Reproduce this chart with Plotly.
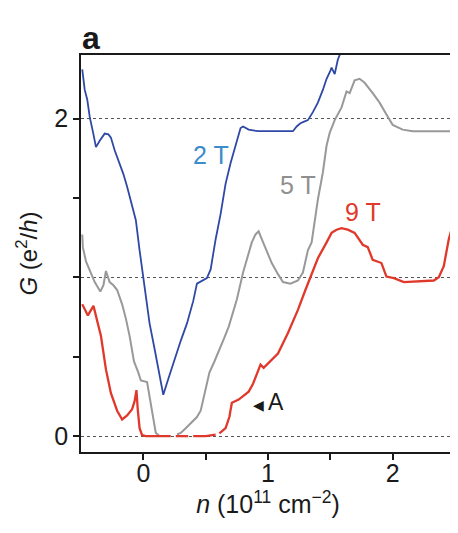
import plotly.graph_objects as go

# ---- data ----
n_2T = [-0.49, -0.47, -0.45, -0.43, -0.40, -0.38, -0.35, -0.31, -0.28, -0.26, -0.23, -0.19,
        -0.16, -0.13, -0.10, -0.06, -0.03, -0.02, 0.02, 0.05, 0.09, 0.125, 0.16, 0.20, 0.24,
        0.30, 0.35, 0.40, 0.43, 0.47, 0.51, 0.54, 0.58, 0.62, 0.66, 0.70, 0.73, 0.76, 0.78,
        0.80, 0.845, 0.92, 1.00, 1.10, 1.20, 1.23, 1.26, 1.29, 1.32, 1.36, 1.40, 1.44, 1.47,
        1.50, 1.51, 1.535, 1.56, 1.59]
G_2T = [2.31, 2.18, 2.12, 2.01, 1.90, 1.82, 1.86, 1.905, 1.90, 1.88, 1.80, 1.72,
        1.65, 1.57, 1.48, 1.36, 1.17, 1.11, 0.90, 0.71, 0.55, 0.40, 0.26, 0.36, 0.46,
        0.60, 0.71, 0.85, 0.96, 0.98, 0.995, 1.05, 1.24, 1.40, 1.59, 1.72, 1.80, 1.88, 1.94,
        1.95, 1.93, 1.92, 1.92, 1.92, 1.92, 1.95, 1.97, 1.98, 1.99, 2.04, 2.10, 2.18, 2.25,
        2.30, 2.32, 2.28, 2.37, 2.43]

n_5T = [-0.49, -0.485, -0.46, -0.43, -0.39, -0.345, -0.32, -0.30, -0.27, -0.24, -0.21, -0.17,
        -0.14, -0.11, -0.075, -0.04, -0.02, 0.03, 0.06, 0.08, 0.10, 0.13, 0.17, 0.21, None,
        0.27, 0.30, 0.34, 0.38, 0.43, 0.46, 0.50, 0.53, 0.57, 0.61, 0.65, 0.685, 0.72, 0.75,
        0.80, 0.84, 0.87, 0.90, 0.925, 0.95, 0.99, 1.03, 1.08, 1.12, 1.18, 1.24, 1.28, 1.32,
        1.35, 1.40, 1.44, 1.47, 1.495, 1.535, 1.59, 1.63, 1.655, 1.695, 1.735, 1.775, 1.84,
        1.895, 1.95, 2.00, 2.08, 2.16, 2.30, 2.50]
G_5T = [1.27, 1.19, 1.10, 1.04, 0.97, 0.91, 0.95, 1.04, 0.97, 0.95, 0.92, 0.83,
        0.74, 0.63, 0.47, 0.40, 0.35, 0.34, 0.21, 0.10, 0.02, 0.0, 0.0, 0.0, None,
        0.01, 0.02, 0.05, 0.08, 0.12, 0.16, 0.30, 0.40, 0.47, 0.54, 0.62, 0.69, 0.78, 0.86,
        1.03, 1.13, 1.22, 1.27, 1.29, 1.24, 1.16, 1.09, 1.02, 0.97, 0.96, 0.98, 1.03, 1.17,
        1.22, 1.49, 1.66, 1.83, 1.91, 1.99, 2.07, 2.17, 2.16, 2.24, 2.25, 2.225, 2.16,
        2.10, 2.025, 1.96, 1.93, 1.92, 1.92, 1.92]

n_9T = [-0.49, -0.445, -0.40, -0.37, -0.34, -0.30, -0.26, -0.21, -0.17, -0.13, -0.09, -0.07,
        -0.055, -0.045, -0.03, -0.01, 0.02, 0.10, 0.18, 0.22, None, 0.26, 0.36, None, 0.40,
        0.50, 0.58, None, 0.61, 0.66, 0.69, 0.71, 0.765, 0.80, 0.845, 0.88, 0.91, 0.94, 0.965,
        1.02, 1.08, 1.16, 1.24, 1.30, 1.34, 1.40, 1.47, 1.51, 1.55, 1.59, 1.64, 1.695, 1.76,
        1.80, 1.84, 1.91, 1.95, 2.01, 2.09, 2.20, 2.33, 2.37, 2.41, 2.45, 2.50]
G_9T = [0.83, 0.76, 0.82, 0.72, 0.63, 0.42, 0.27, 0.16, 0.105, 0.13, 0.17, 0.22,
        0.29, 0.17, 0.05, 0.006, 0.0, 0.0, 0.0, 0.0, None, 0.0, 0.0, None, 0.0,
        0.0, 0.01, None, 0.017, 0.05, 0.12, 0.21, 0.23, 0.25, 0.28, 0.33, 0.385, 0.45, 0.43,
        0.47, 0.52, 0.65, 0.795, 0.92, 1.0, 1.12, 1.22, 1.28, 1.30, 1.31, 1.30, 1.28, 1.205,
        1.19, 1.11, 1.09, 1.005, 0.995, 0.97, 0.975, 0.98, 1.0, 1.07, 1.24, 1.38]

x_ticks = [0, 1, 2]
x_ticktext = ["0", "1", "2"]
x_minor = [0.5, 1.5]
y_ticks = [0, 1, 2]
y_ticktext = ["0", "", "2"]
y_minor = [0.5, 1.5]

FONT = "Liberation Sans, Arial, sans-serif"
INK = "#1a1a1a"

fig = go.Figure()
fig.add_trace(go.Scatter(x=n_2T, y=G_2T, mode="lines", line=dict(color="#2e48a6", width=1.8),
                         connectgaps=False, showlegend=False))
fig.add_trace(go.Scatter(x=n_5T, y=G_5T, mode="lines", line=dict(color="#999999", width=2),
                         connectgaps=False, showlegend=False))
fig.add_trace(go.Scatter(x=n_9T, y=G_9T, mode="lines", line=dict(color="#e0392b", width=2.3),
                         connectgaps=False, showlegend=False))

labels = [("2 T", 0.54, 1.77, "#3b8cc8"), ("5 T", 1.24, 1.58, "#8f8f8f"), ("9 T", 1.76, 1.41, "#e0392b")]
for txt, x, y, c in labels:
    fig.add_annotation(x=x, y=y, text=txt, showarrow=False, font=dict(size=25, color=c, family=FONT))

fig.add_annotation(x=1.0, y=0.215, text="<span style='font-size:14px'>◀ </span>A", showarrow=False,
                   font=dict(size=23, color=INK, family=FONT))
fig.add_annotation(xref="paper", yref="paper", x=0.0, y=1.0, xanchor="left", yanchor="bottom",
                   xshift=-1, yshift=-3, text="<b>a</b>", showarrow=False,
                   font=dict(size=32, color=INK, family=FONT))

axis_common = dict(showline=True, linecolor=INK, linewidth=1.5, mirror=True,
                   ticks="outside", ticklen=6, tickwidth=1.5, tickcolor=INK,
                   tickfont=dict(size=25, color=INK, family=FONT), zeroline=False)

fig.update_xaxes(range=[-0.5, 2.5], tickvals=x_ticks, ticktext=x_ticktext, showgrid=False,
                 ticklabelstandoff=-8,
                 minor=dict(tickvals=x_minor, ticks="outside", ticklen=6, tickwidth=1.5,
                            tickcolor=INK, showgrid=False),
                 title=dict(text="<i>n</i> (10<sup>11</sup> cm<sup>−2</sup>)", standoff=6,
                            font=dict(size=25, color=INK, family=FONT)),
                 **axis_common)
fig.update_yaxes(range=[-0.1, 2.4], tickvals=y_ticks, ticktext=y_ticktext, showgrid=True,
                 gridcolor="#555555", gridwidth=1, griddash="dot",
                 minor=dict(tickvals=y_minor, ticks="outside", ticklen=6, tickwidth=1.5,
                            tickcolor=INK, showgrid=False),
                 title=dict(text="<i>G</i> (e<sup>2</sup>/<i>h</i>)", standoff=10,
                            font=dict(size=24, color=INK, family=FONT)),
                 **axis_common)

fig.update_layout(width=450, height=525, margin=dict(l=73, r=1, t=47, b=81),
                  paper_bgcolor="white", plot_bgcolor="white",
                  font=dict(family=FONT, color=INK))

fig.write_html("out.html")
